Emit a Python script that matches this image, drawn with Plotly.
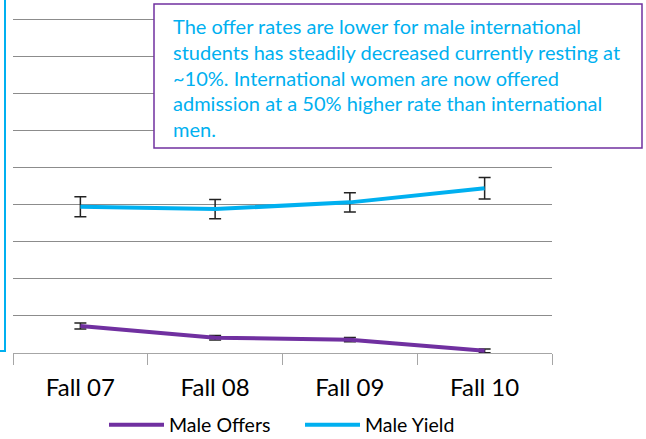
import plotly.graph_objects as go

categories = ["Fall 07", "Fall 08", "Fall 09", "Fall 10"]
male_offers = [7.3, 4.1, 3.6, 0.6]
male_offers_err = [0.8, 0.6, 0.6, 0.5]
male_yield = [39.4, 38.8, 40.6, 44.4]
male_yield_err = [2.7, 2.6, 2.6, 2.9]
note_lines = [
    "The offer rates are lower for male international",
    "students has steadily decreased currently resting at",
    "~10%. International women are now offered",
    "admission at a 50% higher rate than international",
    "men.",
]

W, H = 646, 439
L, R, T, B = 13, 94, 0, 86
PW, PH = W - L - R, H - T - B

def px_x(p):
    return (p - L) / PW

def px_y(p):
    return (H - B - p) / PH

fig = go.Figure()
fig.add_trace(go.Scatter(
    x=categories, y=male_offers, name="Male Offers", mode="lines",
    line=dict(color="#7030A0", width=4),
    error_y=dict(type="data", array=male_offers_err, color="#222222", thickness=1.5, width=6),
))
fig.add_trace(go.Scatter(
    x=categories, y=male_yield, name="Male Yield", mode="lines",
    line=dict(color="#00B0F0", width=4),
    error_y=dict(type="data", array=male_yield_err, color="#222222", thickness=1.5, width=6),
))

shapes = [
    dict(type="rect", xref="paper", yref="paper",
         x0=px_x(154), x1=px_x(642), y0=px_y(148), y1=px_y(4),
         line=dict(color="#7030A0", width=1.5), fillcolor="white", layer="above"),
    dict(type="rect", xref="paper", yref="paper",
         x0=px_x(-50), x1=px_x(5), y0=px_y(351), y1=px_y(-20),
         line=dict(color="#00B0F0", width=2), fillcolor="rgba(0,0,0,0)", layer="above"),
]

centers = [26, 52, 78, 103, 129]
annotations = []
for line, cy in zip(note_lines, centers):
    annotations.append(dict(
        text=line, xref="paper", yref="paper", x=px_x(171), y=px_y(cy),
        xanchor="left", yanchor="middle", showarrow=False, align="left",
        font=dict(family="Lato", size=20, color="#00B0F0"),
    ))

fig.update_layout(
    width=W, height=H,
    margin=dict(l=L, r=R, t=T, b=B, pad=0, autoexpand=False),
    paper_bgcolor="white", plot_bgcolor="white",
    shapes=shapes, annotations=annotations,
    showlegend=True,
    legend=dict(orientation="h", x=px_x(104), xanchor="left", y=px_y(425), yanchor="middle",
                font=dict(family="Lato", size=19.5, color="black"), itemwidth=55,
                entrywidth=126, entrywidthmode="pixels",
                bgcolor="rgba(0,0,0,0)"),
    xaxis=dict(type="category", range=[-0.5, 3.5], tickson="boundaries", ticks="outside",
               ticklen=11, tickcolor="#A6A6A6", showline=True, linecolor="#A6A6A6", linewidth=1,
               showgrid=False, tickfont=dict(family="Lato", size=24, color="black"),
               ticklabelstandoff=13),
    yaxis=dict(range=[0, PH / 37.1 * 10], dtick=10, showgrid=True, gridcolor="#8C8C8C",
               gridwidth=1, showticklabels=False, zeroline=False, showline=False, ticks=""),
)

fig.write_html("out.html", config={"displayModeBar": False},
               post_script="document.body.style.margin='0px';document.body.style.overflow='hidden';")
